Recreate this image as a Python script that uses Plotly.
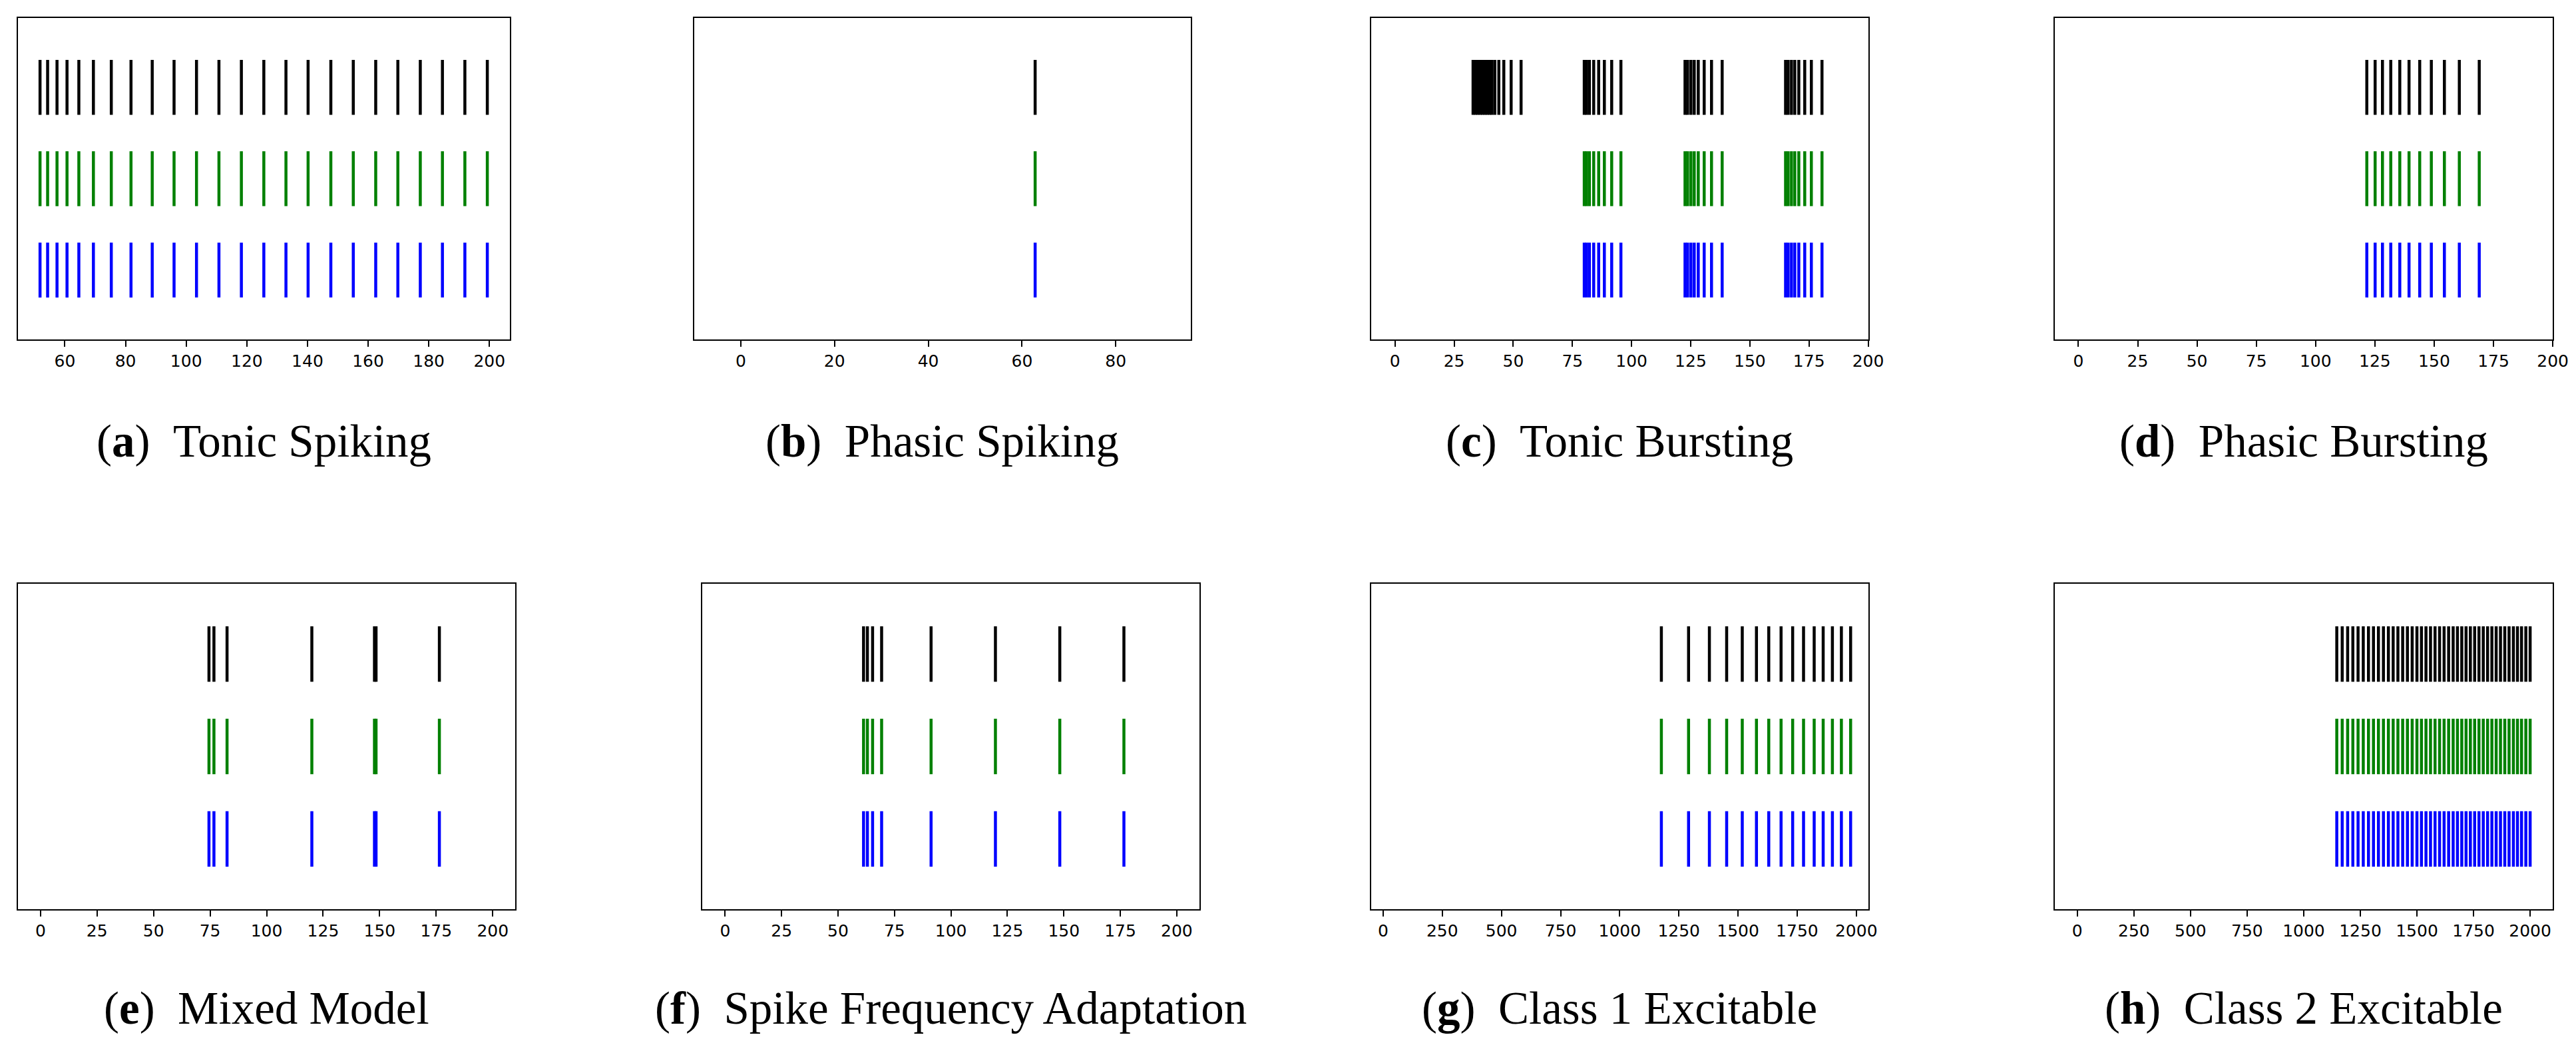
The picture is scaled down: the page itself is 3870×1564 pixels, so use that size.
import plotly.graph_objects as go

# ---------------- data (spike times) ----------------
tonic_spiking = [51.8, 54.3, 57.4, 60.7, 64.6, 69.4, 75.3, 81.8, 88.8, 96.0, 103.4, 110.8,
                 118.2, 125.6, 132.9, 140.2, 147.7, 155.1, 162.5, 169.8, 177.2, 184.5, 191.9, 199.3]
phasic_spiking = [62.8]
tonic_bursting_first = [33, 34, 35, 36, 37, 38, 39, 40, 41, 42.2, 43.9, 46, 49.1, 53.3]
tonic_bursting = [80, 81, 82.2, 84, 86.1, 88.5, 91.6, 95.5,
                  122.6, 123.7, 125.1, 126.5, 128.2, 130.7, 133.8, 138.3,
                  165.1, 166.2, 167.6, 169.0, 170.7, 173.2, 176.0, 180.5]
phasic_bursting = [121.6, 125.1, 128.2, 131.7, 135.5, 139.4, 143.9, 148.8, 154.3, 160.6, 169.0]
mixed_model = [74.5, 76.7, 82.5, 120.0, 147.7, 148.4, 176.4]
spike_freq_adapt = [61.3, 63.0, 65.3, 69.3, 91.2, 119.7, 148.2, 176.6]
class1_excitable = [1176, 1291, 1379, 1452, 1518, 1578, 1630, 1682, 1731, 1777, 1822, 1860,
                    1899, 1937, 1976]
class2_excitable = [1146, 1170, 1194, 1217, 1240, 1263, 1286, 1308, 1330, 1352, 1374, 1395,
                    1416, 1437, 1458, 1479, 1500, 1520, 1540, 1560, 1580, 1600, 1620, 1640,
                    1660, 1679, 1698, 1717, 1736, 1755, 1774, 1793, 1812, 1831, 1850, 1869,
                    1888, 1907, 1926, 1944, 1962, 1981, 2000]

caption_letters = ["a", "b", "c", "d", "e", "f", "g", "h"]
caption_names = ["Tonic Spiking", "Phasic Spiking", "Tonic Bursting", "Phasic Bursting",
                 "Mixed Model", "Spike Frequency Adaptation", "Class 1 Excitable",
                 "Class 2 Excitable"]

tick_a = [60, 80, 100, 120, 140, 160, 180, 200]
tick_b = [0, 20, 40, 60, 80]
tick_200 = [0, 25, 50, 75, 100, 125, 150, 175, 200]
tick_2000 = [0, 250, 500, 750, 1000, 1250, 1500, 1750, 2000]

row_colors = ["black", "#008000", "#0000ff"]   # top, middle, bottom
row_offsets = [2, 1, 0]

# each panel: spikes for (black, green, blue), x range, ticks
panels = [
    ((tonic_spiking, tonic_spiking, tonic_spiking), [44.5, 206.8], tick_a),
    ((phasic_spiking, phasic_spiking, phasic_spiking), [-10, 96], tick_b),
    ((tonic_bursting_first + tonic_bursting, tonic_bursting, tonic_bursting), [-10, 200], tick_200),
    ((phasic_bursting, phasic_bursting, phasic_bursting), [-10, 200], tick_200),
    ((mixed_model, mixed_model, mixed_model), [-10, 210], tick_200),
    ((spike_freq_adapt, spike_freq_adapt, spike_freq_adapt), [-10, 210], tick_200),
    ((class1_excitable, class1_excitable, class1_excitable), [-50, 2050], tick_2000),
    ((class2_excitable, class2_excitable, class2_excitable), [-100, 2100], tick_2000),
]

# ---------------- layout geometry (pixels) ----------------
W, H = 3870, 1564
boxes = [(19, 763, 19, 502), (1041, 1792, 19, 502), (2065, 2816, 19, 502), (3098, 3851, 19, 502),
         (19, 771, 869, 1358), (1054, 1805, 869, 1358), (2065, 2816, 869, 1358), (3098, 3851, 869, 1358)]
caption_y = [655, 655, 655, 655, 1507, 1507, 1507, 1507]
half_len = 0.3

fig = go.Figure()
layout = dict(width=W, height=H, margin=dict(l=0, r=0, t=0, b=0),
              paper_bgcolor="white", plot_bgcolor="white", showlegend=False)
annotations = []

for i, ((sp_k, sp_g, sp_b), xr, ticks) in enumerate(panels):
    n = i + 1
    xa = "x" if n == 1 else f"x{n}"
    ya = "y" if n == 1 else f"y{n}"
    for spikes, color, off in zip((sp_k, sp_g, sp_b), row_colors, row_offsets):
        xs, ys = [], []
        for t in spikes:
            xs += [t, t, None]
            ys += [off - half_len, off + half_len, None]
        fig.add_trace(go.Scatter(x=xs, y=ys, mode="lines", xaxis=xa, yaxis=ya,
                                 line=dict(color=color, width=4.5), hoverinfo="skip"))
    x0, x1, y0, y1 = boxes[i]
    layout[f"xaxis{'' if n == 1 else n}"] = dict(
        domain=[x0 / W, x1 / W], anchor=ya, range=xr, tickvals=ticks,
        ticktext=[str(t) for t in ticks], ticks="outside", ticklen=9, tickwidth=1.5,
        tickcolor="black", showline=True, linecolor="black", linewidth=1.5, mirror=True,
        showgrid=False, zeroline=False,
        tickfont=dict(family="DejaVu Sans", size=25, color="black"))
    layout[f"yaxis{'' if n == 1 else n}"] = dict(
        domain=[1 - y1 / H, 1 - y0 / H], anchor=xa, range=[-0.76, 2.76],
        showticklabels=False, ticks="", showline=True, linecolor="black", linewidth=1.5,
        mirror=True, showgrid=False, zeroline=False)
    annotations.append(dict(
        x=(x0 + x1) / 2 / W, y=1 - caption_y[i] / H, xref="paper", yref="paper",
        xanchor="center", yanchor="middle", showarrow=False,
        text=f"(<b>{caption_letters[i]}</b>)\u2002{caption_names[i]}",
        font=dict(family="Liberation Serif", size=69, color="black")))

layout["annotations"] = annotations
fig.update_layout(**layout)
fig.write_html("out.html")
